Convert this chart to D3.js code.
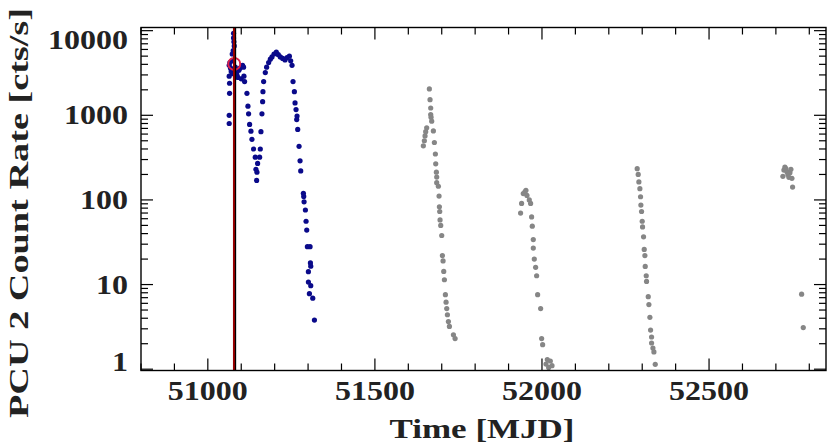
<!DOCTYPE html>
<html>
<head>
<meta charset="utf-8">
<script src="https://cdn.jsdelivr.net/npm/d3@7"></script>
<style>
  body { margin: 0; background: #fff; }
  text { font-family: "Liberation Serif", serif; font-weight: bold; fill: #222; }
</style>
</head>
<body>
<svg id="chart" width="830" height="446"></svg>
<script>
// first outburst (blue), MJD / rate
const blueMjd = [51077, 51077, 51078, 51079, 51076, 51073, 51064, 51066, 51068, 51070, 51072, 51074, 51064, 51065,
  51065, 51064, 51064, 51082, 51085, 51087, 51090, 51093, 51096, 51100, 51104, 51107, 51108, 51110,
  51117, 51120, 51122, 51125, 51129, 51132, 51137, 51142, 51149, 51147, 51144, 51146, 51155, 51157, 51159,
  51162, 51164, 51165, 51167, 51172, 51176, 51182, 51187, 51192, 51198, 51205, 51211, 51217, 51224, 51231,
  51237, 51244, 51248, 51252, 51255, 51259, 51261, 51264, 51266, 51267, 51269, 51273, 51276, 51278, 51286,
  51287, 51288, 51292, 51294, 51296, 51298, 51306, 51307, 51308, 51301, 51301, 51308, 51304, 51314, 51319];
const blueRate = [9300, 8200, 7400, 6600, 5800, 5300, 3900, 4200, 3600, 3300, 4400, 3100, 2900, 2390,
  1820, 1000, 800, 3700, 3200, 3000, 2800, 3400, 3600, 2700, 3900, 3700, 2900, 2500,
  1820, 1280, 1040, 780, 650, 520, 400, 320, 270, 213, 230, 170, 320, 400, 640,
  1040, 1450, 1900, 2500, 3200, 3700, 4200, 4600, 4900, 5300, 5600, 5200, 4900, 4700, 4500,
  4800, 5000, 4400, 3900, 2500, 1900, 1400, 1170, 890, 980, 680, 430, 290, 220, 120,
  110, 95, 76, 56, 44, 28, 28, 18, 16.5, 14.2, 10.7, 9.7, 7.8, 6.9, 3.8];

// later outbursts (grey)
const greyMjd = [51663, 51665, 51667, 51667, 51670, 51668, 51655, 51652, 51650, 51648, 51645, 51675, 51678,
  51681, 51682, 51684, 51685, 51685, 51690, 51692, 51693, 51694, 51695, 51697, 51700, 51702, 51704, 51706, 51708,
  51711, 51713, 51715, 51717, 51720, 51723, 51735, 51740,
  51952, 51949, 51944, 51955, 51939, 51962, 51966, 51936, 51969, 51971, 51974, 51974, 51977, 51981, 51984,
  51987, 51996, 51999, 52002, 52012, 52016, 52020, 52025, 52030,
  52285, 52288, 52290, 52293, 52295, 52296, 52298, 52300, 52301, 52304, 52306, 52308, 52309, 52312, 52313,
  52318, 52320, 52323, 52325, 52328, 52328, 52332, 52335, 52339,
  52721, 52724, 52727, 52730, 52733, 52736, 52739, 52742, 52745, 52748, 52750, 52777, 52782];
const greyRate = [2050, 1530, 1220, 1020, 853, 950, 713, 640, 570, 500, 436, 653, 477,
  349, 267, 213, 186, 160, 145, 111, 83, 73, 58, 50, 38, 22, 19, 14.3, 11.4,
  7.6, 6.2, 5.2, 4.4, 3.65, 3.2, 2.55, 2.3,
  130, 125, 119, 113, 91, 100, 91, 70, 63, 49, 34, 27, 20, 16, 12.7,
  7.6, 5.2, 2.3, 1.95, 1.15, 1.3, 1.05, 1.25, 1.1,
  234, 200, 163, 136, 109, 87, 73, 56, 48, 36.6, 26, 22, 16.4, 12.7, 10.9,
  7.2, 5.8, 4.1, 2.9, 2.4, 2.04, 1.78, 1.6, 1.14,
  190, 225, 244, 235, 215, 200, 185, 210, 230, 180, 142, 7.7, 3.1];

const markerMjd = 51080;
const circleMjd = [51079];
const circleRate = [4050];

const xTicks = [51000, 51500, 52000, 52500];
const yTicks = [1, 10, 100, 1000, 10000];

const margin = { left: 141, right: 4, top: 27.5, bottom: 75.5 };
const W = 830, H = 446;
const svg = d3.select('#chart');

const x = d3.scaleLinear().domain([50800, 52850]).range([margin.left, W - margin.right]);
const y = d3.scaleLog().domain([0.965, 10900]).range([H - margin.bottom, margin.top]);

const plot = svg.append('g');
plot.append('defs').append('clipPath').attr('id', 'clip')
  .append('rect').attr('x', margin.left).attr('y', margin.top)
  .attr('width', W - margin.left - margin.right).attr('height', H - margin.top - margin.bottom);

const dots = plot.append('g').attr('clip-path', 'url(#clip)');

dots.selectAll('.grey')
  .data(greyMjd.map((d, i) => [d, greyRate[i]]))
  .enter().append('circle')
  .attr('cx', d => x(d[0])).attr('cy', d => y(d[1]))
  .attr('r', 2.6).style('fill', '#868686');

dots.selectAll('.blue')
  .data(blueMjd.map((d, i) => [d, blueRate[i]]))
  .enter().append('circle')
  .attr('cx', d => x(d[0])).attr('cy', d => y(d[1]))
  .attr('r', 2.6).style('fill', '#0a0a8a');

dots.selectAll('.ring')
  .data(circleMjd.map((d, i) => [d, circleRate[i]]))
  .enter().append('circle')
  .attr('cx', d => x(d[0])).attr('cy', d => y(d[1]))
  .attr('r', 6).style('fill', 'none').style('stroke', '#e0204a').style('stroke-width', 2);

// marker line: black with a red core
dots.append('line')
  .attr('x1', x(markerMjd)).attr('x2', x(markerMjd))
  .attr('y1', margin.top).attr('y2', H - margin.bottom)
  .style('stroke', '#000').style('stroke-width', 3.2);
dots.append('line')
  .attr('x1', x(markerMjd) - 0.6).attr('x2', x(markerMjd) - 0.6)
  .attr('y1', margin.top).attr('y2', H - margin.bottom)
  .style('stroke', '#e00000').style('stroke-width', 1.3);

// axes: inward ticks on all four sides
const minorX = d3.range(50800, 52851, 100);
const yMinor = [];
for (let e = 0; e <= 4; e++) for (let m = 1; m <= 9; m++) {
  const v = m * Math.pow(10, e);
  if (v >= y.domain()[0] && v <= y.domain()[1]) yMinor.push(v);
}

const ticks = svg.append('g').style('stroke', '#000').style('stroke-width', 1.2);
const y0 = H - margin.bottom, y1 = margin.top, x0 = margin.left, x1 = W - margin.right;
minorX.forEach(v => {
  const len = v % 500 === 0 ? 12 : 7;
  ticks.append('line').attr('x1', x(v)).attr('x2', x(v)).attr('y1', y0).attr('y2', y0 - len);
  ticks.append('line').attr('x1', x(v)).attr('x2', x(v)).attr('y1', y1).attr('y2', y1 + len);
});
yMinor.forEach(v => {
  const len = yTicks.includes(v) ? 12 : 7;
  ticks.append('line').attr('y1', y(v)).attr('y2', y(v)).attr('x1', x0).attr('x2', x0 + len);
  ticks.append('line').attr('y1', y(v)).attr('y2', y(v)).attr('x1', x1).attr('x2', x1 - len);
});
svg.append('rect').attr('x', x0).attr('y', y1).attr('width', x1 - x0).attr('height', y0 - y1)
  .style('fill', 'none').style('stroke', '#000').style('stroke-width', 1.4);

svg.selectAll('.xl').data(xTicks).enter().append('text')
  .attr('x', d => x(d)).attr('y', 400)
  .attr('text-anchor', 'middle').style('font-size', '28px')
  .attr('textLength', d => String(d).length * 16).attr('lengthAdjust', 'spacingAndGlyphs')
  .text(d => d);

svg.selectAll('.yl').data(yTicks).enter().append('text')
  .attr('x', 128).attr('y', d => Math.min(Math.max(y(d), 40), 362) + 9)
  .attr('text-anchor', 'end').style('font-size', '28px')
  .attr('textLength', d => String(d).length * 16).attr('lengthAdjust', 'spacingAndGlyphs')
  .text(d => d);

svg.append('text').attr('x', 482).attr('y', 438)
  .attr('text-anchor', 'middle').style('font-size', '28px')
  .attr('textLength', 185).attr('lengthAdjust', 'spacingAndGlyphs')
  .text('Time [MJD]');

svg.append('text')
  .attr('transform', 'translate(28,' + 213 + ') rotate(-90)')
  .attr('text-anchor', 'middle').style('font-size', '28px')
  .attr('textLength', 410).attr('lengthAdjust', 'spacingAndGlyphs')
  .text('PCU 2 Count Rate [cts/s]');
</script>
</body>
</html>
